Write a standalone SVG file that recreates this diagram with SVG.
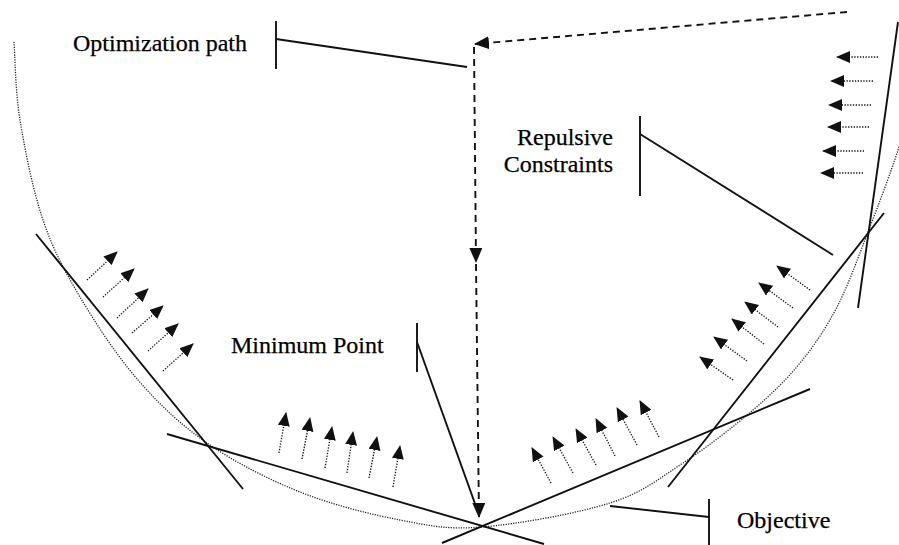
<svg xmlns="http://www.w3.org/2000/svg" width="899" height="545" viewBox="0 0 899 545">
  <style>
    .label { font-family: "Liberation Serif", "Times New Roman", serif; font-size: 24px; fill: #000; stroke: #000; stroke-width: 0.25; }
    .solid { stroke: #111; stroke-width: 1.9; fill: none; stroke-linecap: butt; }
    .dashed { stroke: #111; stroke-width: 1.9; fill: none; stroke-dasharray: 7 5; }
    .dots { stroke: #111; stroke-width: 1.3; fill: none; stroke-dasharray: 1.3 1.5; }
    .curve { stroke: #222; stroke-width: 1.3; fill: none; stroke-dasharray: 1.2 1.3; }
    .push { marker-end: url(#smallHead); }
  </style>
  <defs>
    <marker id="bigHead" markerUnits="userSpaceOnUse" markerWidth="16" markerHeight="14" refX="14" refY="6.5" orient="auto">
      <path d="M0,0 L15,6.5 L0,13 z" fill="#111"/>
    </marker>
    <marker id="smallHead" markerUnits="userSpaceOnUse" markerWidth="16" markerHeight="13" refX="13" refY="6" orient="auto">
      <path d="M0,0 L14,6 L0,12 z" fill="#111"/>
    </marker>
  </defs>

  <rect width="899" height="545" fill="#fff"/>

  <!-- objective function: dotted bowl -->
  <g id="objective-curve">
    <path class="curve" d="M14,42 C15,55 15.2,90.3 20,120 C24.8,149.7 33,190.5 43,220 C53,249.5 64.2,270.3 80,297 C95.8,323.7 116.8,355.7 138,380 C159.2,404.3 180,424.3 207,443 C234,461.7 267.8,479.2 300,492 C332.2,504.8 369.7,514.2 400,520 C430.3,525.8 447,529.8 482,527 C517,524.2 576.5,513.7 610,503 C643.5,492.3 659.2,478.5 683,463 C706.8,447.5 733.5,426.7 753,410 C772.5,393.3 786,380.2 800,363 C814,345.8 825.7,328.8 837,307 C848.3,285.2 857.8,258.2 868,232 C878.2,205.8 891,172 898,150 C905,128 908,108.3 910,100"/>
  </g>

  <!-- linear constraint planes -->
  <g id="constraints">
    <line class="solid" x1="36" y1="234" x2="243" y2="489"/>
    <line class="solid" x1="167" y1="434" x2="544" y2="544"/>
    <line class="solid" x1="442" y1="543" x2="810" y2="389"/>
    <line class="solid" x1="884" y1="213" x2="668" y2="487"/>
    <line class="solid" x1="898" y1="22" x2="858" y2="308"/>
  </g>

  <!-- repulsive forces pushing away from each constraint -->
  <g id="repulsion-left">
    <line class="dots push" x1="87" y1="280" x2="117" y2="252"/>
    <line class="dots push" x1="103" y1="297" x2="134" y2="269"/>
    <line class="dots push" x1="117" y1="318" x2="148" y2="289"/>
    <line class="dots push" x1="132" y1="333" x2="163" y2="306"/>
    <line class="dots push" x1="148" y1="351" x2="178" y2="324"/>
    <line class="dots push" x1="163" y1="371" x2="193" y2="344"/>
  </g>
  <g id="repulsion-bottom-left">
    <line class="dots push" x1="279" y1="453" x2="286" y2="413"/>
    <line class="dots push" x1="302" y1="459" x2="310" y2="418"/>
    <line class="dots push" x1="325" y1="468" x2="332" y2="427"/>
    <line class="dots push" x1="347" y1="473" x2="353" y2="432"/>
    <line class="dots push" x1="369" y1="478" x2="377" y2="437"/>
    <line class="dots push" x1="393" y1="487" x2="400" y2="446"/>
  </g>
  <g id="repulsion-bottom-right">
    <line class="dots push" x1="551" y1="483" x2="532" y2="448"/>
    <line class="dots push" x1="573" y1="473" x2="553" y2="437"/>
    <line class="dots push" x1="596" y1="465" x2="576" y2="429"/>
    <line class="dots push" x1="615" y1="456" x2="596" y2="419"/>
    <line class="dots push" x1="637" y1="445" x2="617" y2="408"/>
    <line class="dots push" x1="659" y1="437" x2="640" y2="401"/>
  </g>
  <g id="repulsion-right">
    <line class="dots push" x1="733" y1="380" x2="700" y2="357"/>
    <line class="dots push" x1="747" y1="361" x2="714" y2="337"/>
    <line class="dots push" x1="764" y1="344" x2="732" y2="319"/>
    <line class="dots push" x1="778" y1="327" x2="745" y2="302"/>
    <line class="dots push" x1="793" y1="308" x2="759" y2="283"/>
    <line class="dots push" x1="810" y1="290" x2="777" y2="266"/>
  </g>
  <g id="repulsion-top-right">
    <line class="dots push" x1="878" y1="57" x2="837" y2="57"/>
    <line class="dots push" x1="873" y1="81" x2="831" y2="81"/>
    <line class="dots push" x1="871" y1="105" x2="829" y2="105"/>
    <line class="dots push" x1="869" y1="127" x2="828" y2="127"/>
    <line class="dots push" x1="864" y1="151" x2="823" y2="151"/>
    <line class="dots push" x1="863" y1="173" x2="821" y2="173"/>
  </g>

  <!-- optimization path and label leaders -->
  <g id="connectors">
    <line class="dashed" x1="847" y1="12" x2="475" y2="44" marker-end="url(#bigHead)"/>
    <line class="dashed" x1="474" y1="47" x2="476" y2="262" marker-end="url(#bigHead)"/>
    <line class="dashed" x1="476" y1="264" x2="479" y2="517" marker-end="url(#bigHead)"/>
    <line class="solid" x1="276" y1="39" x2="467" y2="67"/>
    <line class="solid" x1="640" y1="134" x2="833" y2="255"/>
    <line class="solid" x1="417" y1="342" x2="478" y2="512"/>
    <line class="solid" x1="610" y1="506" x2="709" y2="517"/>
  </g>

  <g id="label-optimization-path">
    <text class="label" x="73" y="51">Optimization path</text>
    <line class="solid" x1="276" y1="21" x2="276" y2="69"/>
  </g>
  <g id="label-repulsive-constraints">
    <text class="label" x="613" y="145" text-anchor="end">Repulsive</text>
    <text class="label" x="613" y="172" text-anchor="end">Constraints</text>
    <line class="solid" x1="640" y1="116" x2="640" y2="196"/>
  </g>
  <g id="label-minimum-point">
    <text class="label" x="231" y="353">Minimum Point</text>
    <line class="solid" x1="417" y1="323" x2="417" y2="372"/>
  </g>
  <g id="label-objective">
    <text class="label" x="737" y="528">Objective</text>
    <line class="solid" x1="709" y1="499" x2="709" y2="545"/>
  </g>
</svg>
